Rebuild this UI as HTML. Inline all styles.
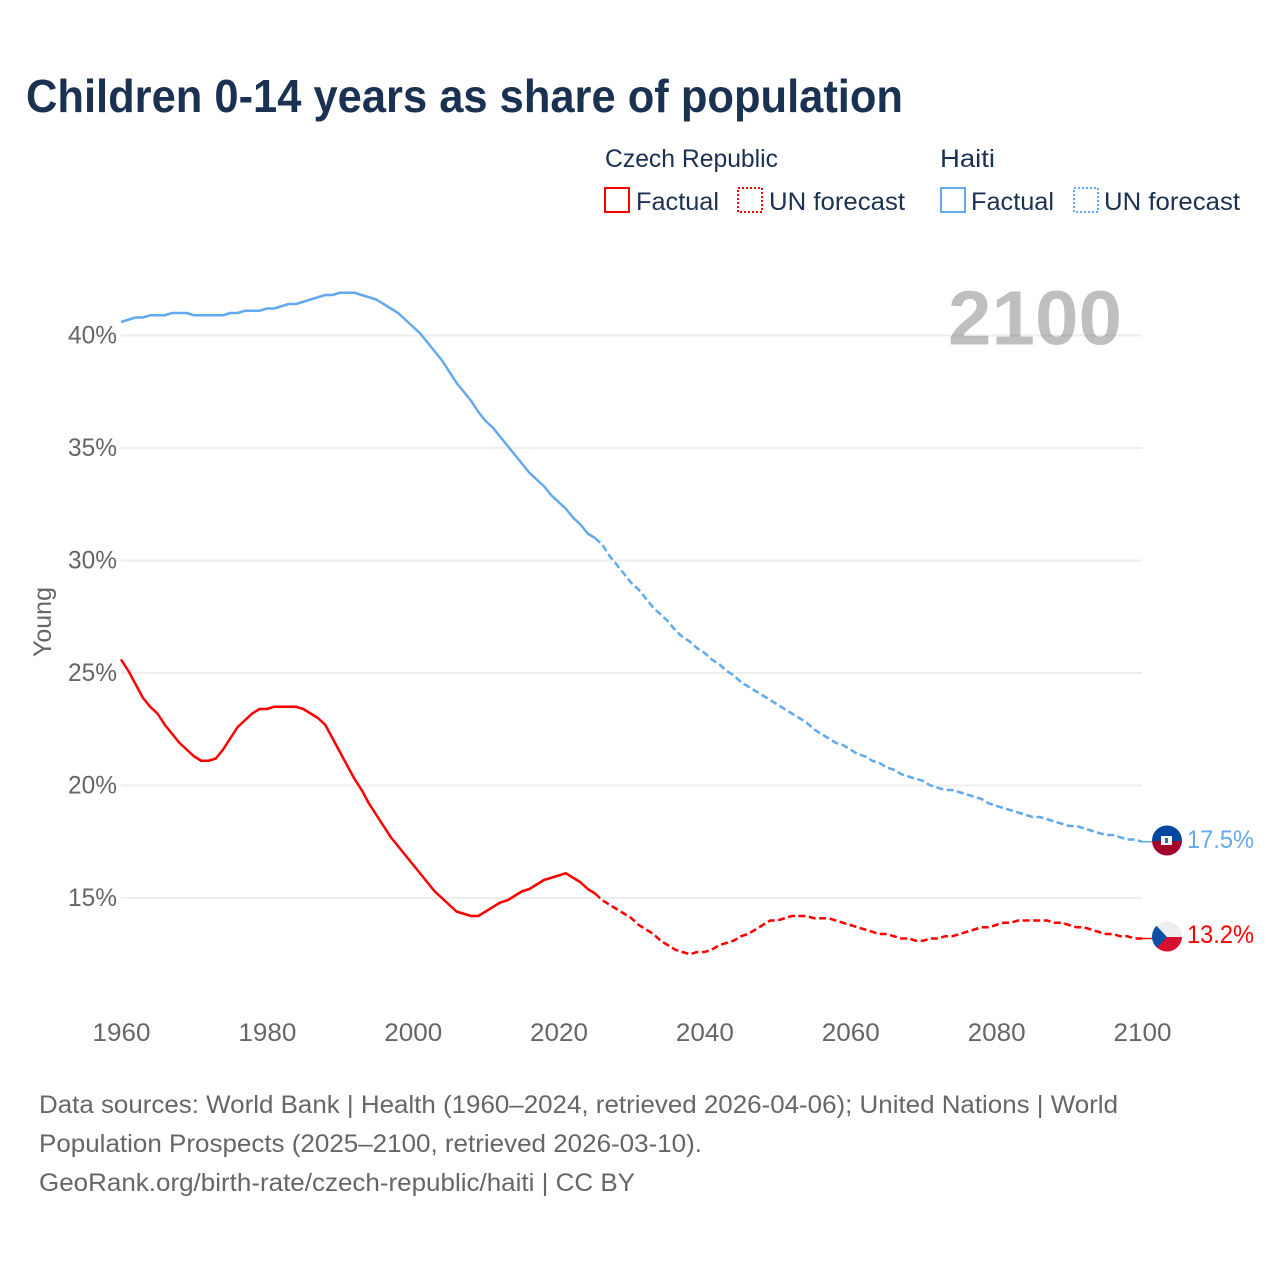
<!DOCTYPE html>
<html lang="en">
<head>
<meta charset="utf-8">
<title>Children 0-14 years as share of population</title>
<style>
html,body{margin:0;padding:0;background:#fff}
svg{display:block}
text{font-family:"Liberation Sans","DejaVu Sans",sans-serif}
</style>
</head>
<body>
<svg id="chart" xmlns="http://www.w3.org/2000/svg" width="1280" height="1280" viewBox="0 0 1280 1280">
  <rect x="0" y="0" width="1280" height="1280" fill="#fff"/>
  <text x="26" y="112" font-size="46" font-weight="700" fill="#1a3152" textLength="877" lengthAdjust="spacingAndGlyphs">Children 0-14 years as share of population</text>

  <g font-size="25" fill="#1a3152">
    <text x="605" y="167" textLength="173" lengthAdjust="spacingAndGlyphs">Czech Republic</text>
    <text x="940" y="167" textLength="55" lengthAdjust="spacingAndGlyphs">Haiti</text>
    <rect x="605" y="188" width="24" height="24" fill="none" stroke="#ff0000" stroke-width="2"/>
    <text x="636" y="210" textLength="83" lengthAdjust="spacingAndGlyphs">Factual</text>
    <rect x="738" y="188" width="24" height="24" fill="none" stroke="#ff0000" stroke-width="2" stroke-dasharray="2 2"/>
    <text x="769" y="210" textLength="136" lengthAdjust="spacingAndGlyphs">UN forecast</text>
    <rect x="941" y="188" width="24" height="24" fill="none" stroke="#63a9ee" stroke-width="2"/>
    <text x="971" y="210" textLength="83" lengthAdjust="spacingAndGlyphs">Factual</text>
    <rect x="1074" y="188" width="24" height="24" fill="none" stroke="#63a9ee" stroke-width="2" stroke-dasharray="2 2"/>
    <text x="1104" y="210" textLength="136" lengthAdjust="spacingAndGlyphs">UN forecast</text>
  </g>

  <g id="grid"></g>
  <g id="y-ticks" font-size="25" fill="#666"></g>
  <g id="x-ticks" font-size="25" fill="#666"></g>
  <text transform="translate(51,622) rotate(-90)" text-anchor="middle" font-size="25" fill="#666" textLength="70" lengthAdjust="spacingAndGlyphs">Young</text>
  <text x="948" y="344.5" font-size="77" font-weight="700" fill="#000" fill-opacity="0.25" textLength="174" lengthAdjust="spacingAndGlyphs">2100</text>

  <g id="series"></g>

  <defs>
    <clipPath id="clip-haiti"><circle cx="1167" cy="840.5" r="15"/></clipPath>
    <clipPath id="clip-czech"><circle cx="1167" cy="936.5" r="15"/></clipPath>
  </defs>
  <g clip-path="url(#clip-haiti)">
    <rect x="1152" y="825" width="30" height="16" fill="#00479f"/>
    <rect x="1152" y="841" width="30" height="16" fill="#a30030"/>
    <rect x="1161" y="836" width="11" height="9" fill="#f4f4f4"/>
    <rect x="1165" y="838" width="3" height="5" fill="#3f6a8f"/>
  </g>
  <g clip-path="url(#clip-czech)">
    <rect x="1152" y="921" width="30" height="16" fill="#eeeeee"/>
    <rect x="1152" y="937" width="30" height="16" fill="#d7102f"/>
    <polygon points="1152,921 1167,937 1152,953" fill="#0c4fa3"/>
  </g>
  <text x="1187" y="848" font-size="25" fill="#63a9ee" textLength="67" lengthAdjust="spacingAndGlyphs">17.5%</text>
  <text x="1187" y="943" font-size="25" fill="#ff0000" textLength="67" lengthAdjust="spacingAndGlyphs">13.2%</text>

  <g font-size="25" fill="#666">
    <text x="39" y="1113" textLength="1079" lengthAdjust="spacingAndGlyphs">Data sources: World Bank | Health (1960–2024, retrieved 2026-04-06); United Nations | World</text>
    <text x="39" y="1152" textLength="663" lengthAdjust="spacingAndGlyphs">Population Prospects (2025–2100, retrieved 2026-03-10).</text>
    <text x="39" y="1191" textLength="596" lengthAdjust="spacingAndGlyphs">GeoRank.org/birth-rate/czech-republic/haiti | CC BY</text>
  </g>
</svg>
<script>
const startYear = 1960;
const lastFactualYear = 2025;
const xTickLabels = [1960, 1980, 2000, 2020, 2040, 2060, 2080, 2100];
const yTickLabels = [15, 20, 25, 30, 35, 40];
const czechValues = [
  25.6,25.1,24.5,23.9,23.5,23.2,22.7,22.3,21.9,21.6,
  21.3,21.1,21.1,21.2,21.6,22.1,22.6,22.9,23.2,23.4,
  23.4,23.5,23.5,23.5,23.5,23.4,23.2,23.0,22.7,22.1,
  21.5,20.9,20.3,19.8,19.2,18.7,18.2,17.7,17.3,16.9,
  16.5,16.1,15.7,15.3,15.0,14.7,14.4,14.3,14.2,14.2,
  14.4,14.6,14.8,14.9,15.1,15.3,15.4,15.6,15.8,15.9,
  16.0,16.1,15.9,15.7,15.4,15.2,14.9,14.7,14.5,14.3,
  14.1,13.8,13.6,13.4,13.1,12.9,12.7,12.6,12.5,12.6,
  12.6,12.7,12.9,13.0,13.1,13.3,13.4,13.6,13.8,14.0,
  14.0,14.1,14.2,14.2,14.2,14.1,14.1,14.1,14.0,13.9,
  13.8,13.7,13.6,13.5,13.4,13.4,13.3,13.2,13.2,13.1,
  13.1,13.2,13.2,13.3,13.3,13.4,13.5,13.6,13.7,13.7,
  13.8,13.9,13.9,14.0,14.0,14.0,14.0,14.0,13.9,13.9,
  13.8,13.7,13.7,13.6,13.5,13.4,13.4,13.3,13.3,13.2,13.2
];
const haitiValues = [
  40.6,40.7,40.8,40.8,40.9,40.9,40.9,41.0,41.0,41.0,
  40.9,40.9,40.9,40.9,40.9,41.0,41.0,41.1,41.1,41.1,
  41.2,41.2,41.3,41.4,41.4,41.5,41.6,41.7,41.8,41.8,
  41.9,41.9,41.9,41.8,41.7,41.6,41.4,41.2,41.0,40.7,
  40.4,40.1,39.7,39.3,38.9,38.4,37.9,37.5,37.1,36.6,
  36.2,35.9,35.5,35.1,34.7,34.3,33.9,33.6,33.3,32.9,
  32.6,32.3,31.9,31.6,31.2,31.0,30.7,30.2,29.8,29.4,
  29.0,28.7,28.3,27.9,27.6,27.3,26.9,26.6,26.4,26.1,
  25.9,25.6,25.4,25.1,24.9,24.6,24.4,24.2,24.0,23.8,
  23.6,23.4,23.2,23.0,22.8,22.5,22.3,22.1,21.9,21.8,
  21.6,21.4,21.3,21.1,21.0,20.8,20.7,20.5,20.4,20.3,
  20.2,20.0,19.9,19.8,19.8,19.7,19.6,19.5,19.4,19.2,
  19.1,19.0,18.9,18.8,18.7,18.6,18.6,18.5,18.4,18.3,
  18.2,18.2,18.1,18.0,17.9,17.8,17.8,17.7,17.6,17.6,17.5
];

const SVG_NS = 'http://www.w3.org/2000/svg';
function xScale(year) { return 121 + (year - 1960) * (1142 - 121) / 140; }
function yScale(pct) { return 898 - (pct - 15) * (898 - 335.5) / 25; }
function pointsFor(values, fromYear, toYear) {
  const pts = [];
  values.forEach(function (v, i) {
    const yr = startYear + i;
    if (yr >= fromYear && yr <= toYear) pts.push(xScale(yr).toFixed(2) + ',' + yScale(v).toFixed(2));
  });
  return pts.join(' ');
}
const gridG = document.getElementById('grid');
const yG = document.getElementById('y-ticks');
const xG = document.getElementById('x-ticks');
const seriesG = document.getElementById('series');

yTickLabels.forEach(function (t) {
  const line = document.createElementNS(SVG_NS, 'line');
  
  
  line.setAttribute('x1', xScale(1960));
  line.setAttribute('x2', xScale(2100));
  line.setAttribute('y1', yScale(t));
  line.setAttribute('y2', yScale(t));
  line.setAttribute('stroke', '#eeeeee');
  line.setAttribute('stroke-width', '2');
  gridG.appendChild(line);

  const label = document.createElementNS(SVG_NS, 'text');
  
  
  label.setAttribute('x', xScale(1960) - 4);
  label.setAttribute('y', yScale(t) + 8);
  label.setAttribute('text-anchor', 'end');
  label.setAttribute('textLength', '49');
  label.setAttribute('lengthAdjust', 'spacingAndGlyphs');
  label.textContent = t + '%';
  yG.appendChild(label);
});

xTickLabels.forEach(function (t) {
  const label = document.createElementNS(SVG_NS, 'text');
  
  
  label.setAttribute('x', xScale(t) + 0.5);
  label.setAttribute('y', 1041);
  label.setAttribute('text-anchor', 'middle');
  label.setAttribute('textLength', '58');
  label.setAttribute('lengthAdjust', 'spacingAndGlyphs');
  label.textContent = t;
  xG.appendChild(label);
});

function drawSeries(values, color, name) {
  const solid = document.createElementNS(SVG_NS, 'polyline');
  
  
  solid.setAttribute('points', pointsFor(values, startYear, lastFactualYear));
  solid.setAttribute('fill', 'none');
  solid.setAttribute('stroke', color);
  solid.setAttribute('stroke-width', '2.5');
  solid.setAttribute('stroke-linejoin', 'round');
  seriesG.appendChild(solid);

  const dashed = document.createElementNS(SVG_NS, 'polyline');
  
  
  dashed.setAttribute('points', pointsFor(values, lastFactualYear, 2100));
  dashed.setAttribute('fill', 'none');
  dashed.setAttribute('stroke', color);
  dashed.setAttribute('stroke-width', '2.5');
  dashed.setAttribute('stroke-dasharray', '7 3.5');
  seriesG.appendChild(dashed);

  const connector = document.createElementNS(SVG_NS, 'line');
  
  
  const lastY = yScale(values[values.length - 1]);
  connector.setAttribute('x1', xScale(2100));
  connector.setAttribute('x2', xScale(2100) + 10);
  connector.setAttribute('y1', lastY);
  connector.setAttribute('y2', lastY);
  connector.setAttribute('stroke', color);
  connector.setAttribute('stroke-width', '1.5');
  seriesG.appendChild(connector);
}
drawSeries(haitiValues, '#63a9ee', 'haiti');
drawSeries(czechValues, '#ff0000', 'czech-republic');
</script>
</body>
</html>
